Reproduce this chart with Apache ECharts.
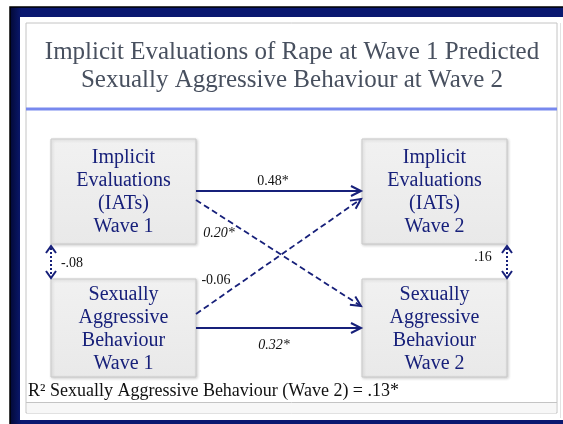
<!DOCTYPE html>
<html>
<head>
<meta charset="utf-8">
<script src="https://cdn.jsdelivr.net/npm/echarts@6/dist/echarts.min.js"></script>
<style>html,body{margin:0;padding:0;background:#fff}#c{width:563px;height:424px}
.fl{position:absolute;left:-1000px;top:0;font-family:'Liberation Serif'}</style>
</head>
<body>
<div id="c"></div>
<span class="fl">Font preload</span><span class="fl" style="font-style:italic">Font preload</span>
<script>
// ---- content / data ----
const titleLines = ['Implicit Evaluations of Rape at Wave 1 Predicted', 'Sexually Aggressive Behaviour at Wave 2'];
const nodeNames = [
  'Implicit\nEvaluations\n(IATs)\nWave 1',
  'Sexually\nAggressive\nBehaviour\nWave 1',
  'Implicit\nEvaluations\n(IATs)\nWave 2',
  'Sexually\nAggressive\nBehaviour\nWave 2'
];
const pathFrom = [0, 0, 1, 1];
const pathTo = [2, 3, 2, 3];
const pathCoef = ['0.48*', '0.20*', '-0.06', '0.32*'];
const covFrom = [0, 2];
const covTo = [1, 3];
const covCoef = ['-.08', '.16'];
const r2Text = 'R\u00B2 Sexually Aggressive Behaviour (Wave 2) = .13*';

// ---- layout (pixel space of hidden axes) ----
const boxes = [
  {x: 51, y: 139, w: 145, h: 105},
  {x: 51, y: 279, w: 145, h: 98},
  {x: 362, y: 139, w: 145, h: 105},
  {x: 362, y: 279, w: 145, h: 98}
];
const pathStartY = [191, 200, 314, 328];
const pathEndY = [191, 306, 199, 328];
const pathDashed = [false, true, true, false];
const pathItalic = [false, true, false, true];
const pathLabelPos = [[273, 181], [219, 233], [216, 280], [274, 345]];
const covX = [51, 507];
const covLabelPos = [[72, 263], [483, 257]];

const NAVY = '#17207a';
const SERIF = 'Liberation Serif';

const boxData = nodeNames.map((n, i) => [boxes[i].x, boxes[i].y, boxes[i].w, boxes[i].h, i]);
const pathData = pathCoef.map((c, i) => {
  const a = boxes[pathFrom[i]], b = boxes[pathTo[i]];
  return [a.x + a.w, pathStartY[i], b.x - 1, pathEndY[i], i];
});
const covData = covCoef.map((c, i) => {
  const a = boxes[covFrom[i]], b = boxes[covTo[i]];
  return [covX[i], a.y + a.h + 2, covX[i], b.y - 1, i];
});

function chevron(x1, y1, x2, y2, len, half) {
  const dx = x2 - x1, dy = y2 - y1, L = Math.sqrt(dx * dx + dy * dy);
  const ux = dx / L, uy = dy / L, nx = -uy, ny = ux;
  return [[x2 - len * ux + half * nx, y2 - len * uy + half * ny], [x2, y2], [x2 - len * ux - half * nx, y2 - len * uy - half * ny]];
}
function serifText(text, size, color, extra) {
  return Object.assign({text: text, fontFamily: SERIF, fontSize: size, fill: color, align: 'center', verticalAlign: 'middle'}, extra || {});
}

function draw() {
const chart = echarts.init(document.getElementById('c'));
chart.setOption({
  animation: false,
  backgroundColor: '#ffffff',
  grid: {left: 0, right: 0, top: 0, bottom: 0},
  xAxis: {type: 'value', min: 0, max: 563, show: false},
  yAxis: {type: 'value', min: 0, max: 424, inverse: true, show: false},
  graphic: [
    {type: 'rect', z: -10, shape: {x: 10, y: 7, width: 600, height: 430},
      style: {fill: new echarts.graphic.LinearGradient(0, 0, 1, 0, [{offset: 0, color: '#020833'}, {offset: 0.02, color: '#0a1870'}, {offset: 1, color: '#0a1870'}]), stroke: '#000000', lineWidth: 1.5}},
    {type: 'rect', z: -9, shape: {x: 20, y: 17, width: 600, height: 403}, style: {fill: '#ffffff'}},
    {type: 'rect', z: -8, shape: {x: 26, y: 23, width: 531, height: 390}, style: {fill: '#ffffff', stroke: '#c4c4c4', lineWidth: 1}},
    {type: 'rect', z: -8, shape: {x: 27, y: 403, width: 529, height: 10}, style: {fill: '#f7f7f7'}},
    {type: 'line', z: -7, shape: {x1: 26, y1: 402.5, x2: 557, y2: 402.5}, style: {stroke: '#c4c4c4', lineWidth: 1}},
    {type: 'line', z: -7, shape: {x1: 560.5, y1: 23, x2: 560.5, y2: 418}, style: {stroke: '#e2e2e2', lineWidth: 1}},
    {type: 'rect', z: -7, shape: {x: 26, y: 107.5, width: 531, height: 3}, style: {fill: '#7889ee'}},
    {type: 'text', z: 5, x: 292, y: 52, style: serifText(titleLines[0], 25, '#48505f')},
    {type: 'text', z: 5, x: 292, y: 80, style: serifText(titleLines[1], 25, '#48505f')},
    {type: 'text', z: 5, x: 28, y: 391, style: serifText(r2Text, 18, '#111111', {align: 'left'})}
  ],
  series: [
    {
      type: 'custom', name: 'boxes', coordinateSystem: 'cartesian2d', data: boxData, z: 3,
      renderItem: function (params, api) {
        const p = api.coord([api.value(0), api.value(1)]);
        const w = api.value(2), h = api.value(3), idx = api.value(4);
        return {
          type: 'group', children: [
            {type: 'rect', shape: {x: p[0], y: p[1], width: w, height: h},
              style: {fill: new echarts.graphic.LinearGradient(0, 0, 0, 1, [{offset: 0, color: '#f1f1f1'}, {offset: 1, color: '#e9e9e9'}]),
                stroke: '#c9c9c9', lineWidth: 1, shadowBlur: 3, shadowOffsetX: 1, shadowOffsetY: 1, shadowColor: 'rgba(0,0,0,0.18)'}},
            {type: 'text', x: p[0] + w / 2, y: p[1] + h / 2 + 1,
              style: serifText(nodeNames[idx], 20, NAVY, {lineHeight: 23})}
          ]
        };
      }
    },
    {
      type: 'custom', name: 'paths', coordinateSystem: 'cartesian2d', data: pathData, z: 4,
      renderItem: function (params, api) {
        const a = api.coord([api.value(0), api.value(1)]);
        const b = api.coord([api.value(2), api.value(3)]);
        const i = api.value(4);
        const lp = api.coord(pathLabelPos[i]);
        return {
          type: 'group', children: [
            {type: 'line', shape: {x1: a[0], y1: a[1], x2: b[0], y2: b[1]},
              style: {stroke: NAVY, lineWidth: pathDashed[i] ? 1.8 : 2, lineDash: pathDashed[i] ? [6, 3.5] : null}},
            {type: 'polyline', shape: {points: chevron(a[0], a[1], b[0], b[1], 10, 5)},
              style: {stroke: NAVY, lineWidth: 2, fill: null}},
            {type: 'text', x: lp[0], y: lp[1],
              style: serifText(pathCoef[i], 14, '#111111', {fontStyle: pathItalic[i] ? 'italic' : 'normal'})}
          ]
        };
      }
    },
    {
      type: 'custom', name: 'covariances', coordinateSystem: 'cartesian2d', data: covData, z: 4,
      renderItem: function (params, api) {
        const a = api.coord([api.value(0), api.value(1)]);
        const b = api.coord([api.value(2), api.value(3)]);
        const i = api.value(4);
        const lp = api.coord(covLabelPos[i]);
        return {
          type: 'group', children: [
            {type: 'line', shape: {x1: a[0], y1: a[1] + 2, x2: b[0], y2: b[1] - 2},
              style: {stroke: NAVY, lineWidth: 2, lineDash: [2, 2]}},
            {type: 'polyline', shape: {points: chevron(a[0], a[1], b[0], b[1], 7, 5)}, style: {stroke: NAVY, lineWidth: 2, fill: null}},
            {type: 'polyline', shape: {points: chevron(b[0], b[1], a[0], a[1], 7, 5)}, style: {stroke: NAVY, lineWidth: 2, fill: null}},
            {type: 'text', x: lp[0], y: lp[1],
              style: serifText(covCoef[i], 14, '#111111')}
          ]
        };
      }
    }
  ]
});
}
if (document.fonts && document.fonts.load) {
  Promise.all([
    document.fonts.load('20px "Liberation Serif"'),
    document.fonts.load('italic 14px "Liberation Serif"')
  ]).then(draw, draw);
} else {
  draw();
}
</script>
</body>
</html>
